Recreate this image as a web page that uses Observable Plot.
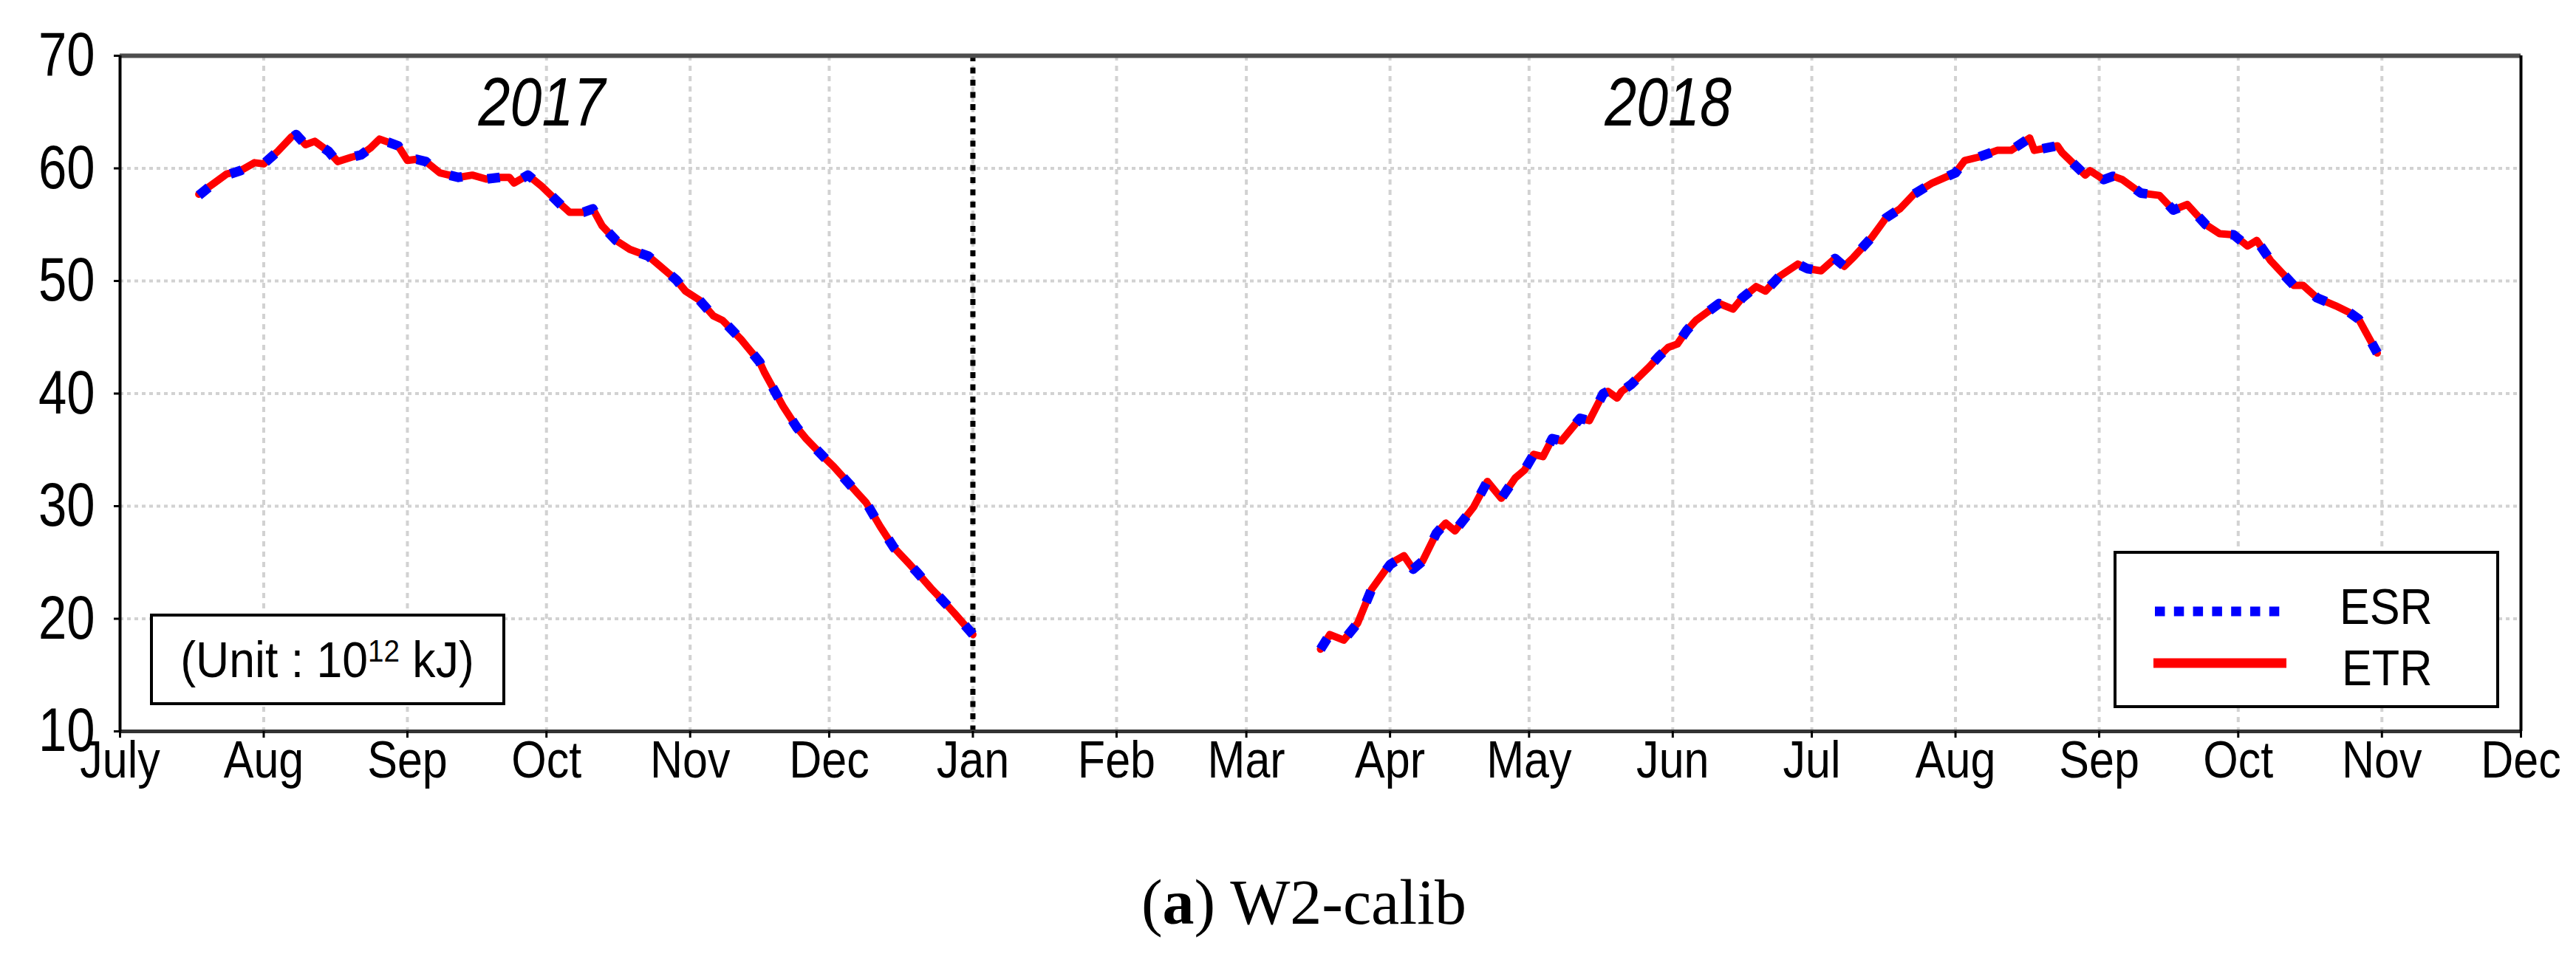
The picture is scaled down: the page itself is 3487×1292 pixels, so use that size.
<!DOCTYPE html>
<html>
<head>
<meta charset="utf-8">
<script src="https://cdn.jsdelivr.net/npm/d3@7"></script>
<script src="https://cdn.jsdelivr.net/npm/@observablehq/plot@0.6"></script>
<style>
  html, body { margin: 0; padding: 0; background: #fff; }
  #wrap { position: relative; width: 3487px; height: 1292px; overflow: hidden; background: #fff; }
  #chart { position: absolute; left: 0; top: 0; }
  #caption { position: absolute; left: 0; width: 3530px; top: 1172px; text-align: center;
    font-family: "Liberation Serif", "Times New Roman", serif; font-size: 86px; color: #000; }
</style>
</head>
<body>
<div id="wrap">
  <div id="chart"></div>
  <div id="caption">(<b>a</b>) W2-calib</div>
</div>
<script>
// ---------- data ----------
const monthTicks = ["2017-07-01","2017-08-01","2017-09-01","2017-10-01","2017-11-01","2017-12-01",
  "2018-01-01","2018-02-01","2018-03-01","2018-04-01","2018-05-01","2018-06-01",
  "2018-07-01","2018-08-01","2018-09-01","2018-10-01","2018-11-01","2018-12-01"];
const monthLabels = ["July","Aug","Sep","Oct","Nov","Dec","Jan","Feb","Mar","Apr","May","Jun",
  "Jul","Aug","Sep","Oct","Nov","Dec"];
const yTicks = [10, 20, 30, 40, 50, 60, 70];

const dates2017 = ["2017-07-18","2017-07-21","2017-07-24","2017-07-27","2017-07-30","2017-08-01","2017-08-04",
  "2017-08-07","2017-08-08","2017-08-10","2017-08-12","2017-08-15","2017-08-17","2017-08-20","2017-08-22",
  "2017-08-24","2017-08-26","2017-08-28","2017-08-30","2017-09-01","2017-09-03","2017-09-05","2017-09-08",
  "2017-09-10","2017-09-12","2017-09-15","2017-09-18","2017-09-21","2017-09-23","2017-09-24","2017-09-27",
  "2017-09-30","2017-10-03","2017-10-06","2017-10-09","2017-10-11","2017-10-13","2017-10-16","2017-10-19",
  "2017-10-23","2017-10-25","2017-10-29","2017-10-31","2017-11-03","2017-11-06","2017-11-08","2017-11-12",
  "2017-11-16","2017-11-17","2017-11-19","2017-11-21","2017-11-24","2017-11-26","2017-11-30","2017-12-02",
  "2017-12-07","2017-12-09","2017-12-12","2017-12-15","2017-12-18","2017-12-20","2017-12-23","2017-12-26",
  "2017-12-28","2018-01-01"];
const etr2017 = [57.7,58.6,59.5,59.8,60.5,60.4,61.5,62.8,63.0,62.1,62.4,61.5,60.6,61.0,61.2,
  61.8,62.6,62.3,62.0,60.7,60.8,60.6,59.6,59.4,59.2,59.4,59.05,59.2,59.2,58.7,59.4,
  58.4,57.2,56.1,56.1,56.4,54.9,53.6,52.8,52.2,51.5,50.1,49.1,48.3,46.9,46.5,44.8,
  42.8,41.9,40.4,38.9,37.0,36.0,34.3,33.5,31.2,30.3,28.2,26.3,25.0,24.1,22.7,21.4,
  20.5,18.6];
const esr2017 = [57.6,58.6,59.4,59.8,60.5,60.4,61.5,62.7,63.0,62.1,62.4,61.5,60.5,61.0,61.2,
  61.8,62.5,62.3,62.0,60.6,60.8,60.6,59.5,59.4,59.2,59.4,59.05,59.2,59.1,58.7,59.4,
  58.4,57.2,56.0,56.1,56.4,54.9,53.6,52.8,52.2,51.5,50.1,49.1,48.3,46.9,46.5,44.8,
  42.8,41.9,40.4,38.9,37.0,36.0,34.3,33.5,31.2,30.3,28.2,26.3,25.0,24.1,22.7,21.4,
  20.5,18.6];

const dates2018 = ["2018-03-17","2018-03-19","2018-03-22","2018-03-25","2018-03-28","2018-04-01","2018-04-04",
  "2018-04-06","2018-04-08","2018-04-11","2018-04-13","2018-04-15","2018-04-19","2018-04-22","2018-04-25",
  "2018-04-28","2018-04-30","2018-05-02","2018-05-04","2018-05-06","2018-05-08","2018-05-12","2018-05-14",
  "2018-05-17","2018-05-18","2018-05-20","2018-05-21","2018-05-23","2018-05-27","2018-05-29","2018-05-31",
  "2018-06-02","2018-06-04","2018-06-06","2018-06-09","2018-06-11","2018-06-14","2018-06-16","2018-06-19",
  "2018-06-21","2018-06-24","2018-06-28","2018-06-30","2018-07-03","2018-07-06","2018-07-08","2018-07-10",
  "2018-07-14","2018-07-17","2018-07-20","2018-07-23","2018-07-27","2018-08-01","2018-08-03","2018-08-06",
  "2018-08-10","2018-08-13","2018-08-17","2018-08-18","2018-08-23","2018-08-24","2018-08-29","2018-08-30",
  "2018-09-02","2018-09-04","2018-09-06","2018-09-10","2018-09-14","2018-09-17","2018-09-20","2018-09-24",
  "2018-09-27","2018-09-30","2018-10-03","2018-10-05","2018-10-08","2018-10-13","2018-10-15","2018-10-18",
  "2018-10-22","2018-10-25","2018-10-27","2018-10-31"];
const etr2018 = [17.3,18.6,18.1,19.6,22.6,24.9,25.6,
  24.4,25.1,27.6,28.5,27.8,29.9,32.2,30.7,
  32.5,33.2,34.6,34.4,36.0,35.8,37.8,37.6,
  40.0,40.2,39.6,40.2,40.8,42.4,43.3,44.1,
  44.4,45.6,46.5,47.4,48.0,47.5,48.5,49.5,
  49.1,50.4,51.5,51.1,50.9,52.0,51.3,52.1,
  53.9,55.6,56.4,57.7,58.7,59.6,60.7,61.0,
  61.6,61.6,62.7,61.6,62.0,61.4,59.4,59.8,
  59.0,59.3,59.0,57.8,57.6,56.3,56.8,55.0,
  54.2,54.1,53.1,53.6,51.8,49.6,49.6,48.5,
  47.8,47.2,46.6,43.6];
const esr2018 = [17.3,18.6,18.1,19.6,22.6,24.8,25.6,
  24.4,25.1,27.6,28.5,27.8,29.9,32.2,30.7,
  32.5,33.2,34.6,34.4,36.0,35.8,37.8,37.6,
  40.0,40.2,39.6,40.2,40.8,42.4,43.3,44.1,
  44.4,45.6,46.5,47.4,48.0,47.5,48.5,49.5,
  49.1,50.4,51.5,51.1,50.9,52.0,51.3,52.1,
  53.9,55.6,56.4,57.7,58.7,59.6,60.7,61.0,
  61.6,61.6,62.7,61.6,62.0,61.4,59.4,59.8,
  59.0,59.3,59.0,57.8,57.6,56.3,56.8,55.0,
  54.2,54.1,53.1,53.6,51.8,49.6,49.6,48.5,
  47.8,47.2,46.6,43.6];

const yearLabels = ["2017", "2018"];
const yearLabelDates = ["2017-09-30", "2018-05-31"];
const yearLabelY = [63.8, 63.8];
const divider = ["2018-01-01"];
const seriesNames = ["ESR", "ETR"];
const seriesColors = ["#0000ff", "#ff0000"];

// ---------- build ----------
const parse = d3.utcParse("%Y-%m-%d");
const rows2017 = dates2017.map((d, i) => ({date: parse(d), ETR: etr2017[i], ESR: esr2017[i]}));
const rows2018 = dates2018.map((d, i) => ({date: parse(d), ETR: etr2018[i], ESR: esr2018[i]}));
const tickDates = monthTicks.map(parse);
const labelOf = new Map(tickDates.map((d, i) => [+d, monthLabels[i]]));
const years = yearLabels.map((t, i) => ({date: parse(yearLabelDates[i]), y: yearLabelY[i], label: t}));
const FONT = '"Liberation Sans", Arial, sans-serif';

const plot = Plot.plot({
  width: 3487,
  height: 1130,
  marginTop: 75,
  marginBottom: 140,
  marginLeft: 162,
  marginRight: 75,
  style: {fontFamily: FONT, color: "#000", background: "#fff", overflow: "visible"},
  x: {type: "utc", domain: [tickDates[0], tickDates[tickDates.length - 1]]},
  y: {domain: [10, 70]},
  marks: [
    Plot.ruleY(yTicks.slice(1, -1), {stroke: "#d2d2d2", strokeWidth: 4, strokeDasharray: "5,5"}),
    Plot.ruleX(tickDates.slice(1, -1), {stroke: "#d2d2d2", strokeWidth: 4, strokeDasharray: "7,7"}),
    Plot.ruleX(divider.map(parse), {stroke: "#000", strokeWidth: 7, strokeDasharray: "8,8.5"}),
    Plot.lineY(rows2017, {x: "date", y: "ETR", stroke: seriesColors[1], strokeWidth: 10}),
    Plot.lineY(rows2018, {x: "date", y: "ETR", stroke: seriesColors[1], strokeWidth: 10}),
    Plot.lineY(rows2017, {x: "date", y: "ESR", stroke: seriesColors[0], strokeWidth: 13, strokeDasharray: "17,35", strokeLinecap: "butt"}),
    Plot.lineY(rows2018, {x: "date", y: "ESR", stroke: seriesColors[0], strokeWidth: 13, strokeDasharray: "17,35", strokeLinecap: "butt"}),
    Plot.text(years, {x: "date", y: "y", text: "label", fontSize: 93, fontStyle: "italic", lineAnchor: "bottom", textAnchor: "middle", fill: "#000"}),
    // frame
    Plot.ruleY([70], {stroke: "#4d4d4d", strokeWidth: 6}),
    Plot.ruleY([10], {stroke: "#333", strokeWidth: 5}),
    Plot.ruleX([tickDates[0]], {stroke: "#000", strokeWidth: 4}),
    Plot.ruleX([tickDates[tickDates.length - 1]], {stroke: "#000", strokeWidth: 4}),
    Plot.axisX({ticks: tickDates, tickFormat: d => labelOf.get(+d), tickSize: 9, tickPadding: 3, fontSize: 71, strokeWidth: 3}),
    Plot.axisY({ticks: yTicks, tickSize: 8, tickPadding: 26, fontSize: 84, strokeWidth: 3})
  ]
});

document.getElementById("chart").appendChild(plot);

// horizontally condense text (the reference uses a narrow sans face)
function condense(el, s) {
  const t = el.getAttribute("transform") || "";
  const x = +el.getAttribute("x") || 0, y = +el.getAttribute("y") || 0;
  el.setAttribute("transform", `${t} translate(${x},${y}) scale(${s},1) translate(${-x},${-y})`);
}
const svg = d3.select(plot);
svg.selectAll('g[aria-label="x-axis tick label"] text').each(function() { condense(this, 0.86); });
svg.selectAll('g[aria-label="y-axis tick label"] text').each(function() { condense(this, 0.82); });
svg.selectAll('g[aria-label="text"] text').each(function() { condense(this, 0.83); });

// ---------- annotations (unit box and legend) ----------
const g = svg.append("g").attr("font-family", FONT).attr("fill", "#000").attr("text-anchor", "start");

// unit box
g.append("rect").attr("x", 205).attr("y", 833).attr("width", 477).attr("height", 120)
  .attr("fill", "#fff").attr("stroke", "#000").attr("stroke-width", 4);
const ut = g.append("text").attr("x", 443).attr("y", 917).attr("text-anchor", "middle").attr("font-size", 68);
ut.append("tspan").text("(Unit : 10");
ut.append("tspan").attr("dy", -21).attr("font-size", 42).text("12");
ut.append("tspan").attr("dy", 21).text(" kJ)");
condense(ut.node(), 0.92);

// legend
g.append("rect").attr("x", 2863).attr("y", 748).attr("width", 518).attr("height", 209)
  .attr("fill", "#fff").attr("stroke", "#000").attr("stroke-width", 4);
g.append("line").attr("x1", 2917).attr("x2", 3087).attr("y1", 828).attr("y2", 828)
  .attr("stroke", seriesColors[0]).attr("stroke-width", 13).attr("stroke-dasharray", "13.5,12.3");
g.append("line").attr("x1", 2915).attr("x2", 3095).attr("y1", 898).attr("y2", 898)
  .attr("stroke", seriesColors[1]).attr("stroke-width", 13);
const l1 = g.append("text").attr("x", 3167).attr("y", 845).attr("font-size", 68).attr("text-anchor", "start").text(seriesNames[0]);
const l2 = g.append("text").attr("x", 3170).attr("y", 928).attr("font-size", 68).attr("text-anchor", "start").text(seriesNames[1]);
condense(l1.node(), 0.9);
condense(l2.node(), 0.9);
</script>
</body>
</html>
